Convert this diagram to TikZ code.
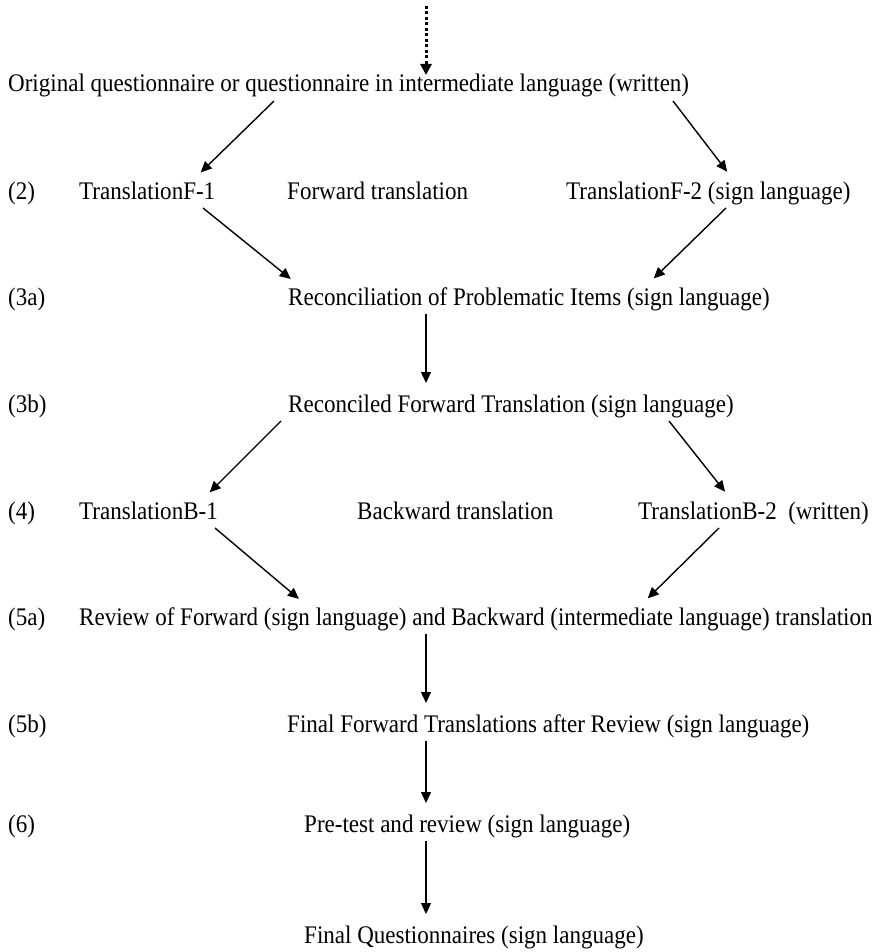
\documentclass[tikz,border=0pt]{standalone}
\usepackage{fontspec}
\setmainfont{Liberation Serif}[FakeStretch=0.91]
\usetikzlibrary{arrows.meta}

\begin{document}
\begin{tikzpicture}[x=1pt,y=-1pt,
  row/.style={anchor=base west, inner sep=0pt, outer ysep=4pt,
    text height=17pt, text depth=5pt, font=\fontsize{25.3}{29}\selectfont},
  arr/.style={line width=1.4pt, -{Triangle[length=11pt,width=10pt]}, shorten >=8pt},
  dotarr/.style={line width=3pt, dash pattern=on 3pt off 2.5pt,
    -{Triangle[length=11pt,width=11pt]}}]
  % Fix the page size
  \useasboundingbox (0,0) rectangle (881,952);

  % Step numbers
  \node[row] (n2)  at (8,199) {(2)};
  \node[row] (n3a) at (8,305) {(3a)};
  \node[row] (n3b) at (8,412) {(3b)};
  \node[row] (n4)  at (8,519) {(4)};
  \node[row] (n5a) at (8,625) {(5a)};
  \node[row] (n5b) at (8,732) {(5b)};
  \node[row] (n6)  at (8,832) {(6)};

  % Stages
  \node[row] (orig)   at (8,92)    {Original questionnaire or questionnaire in intermediate language (written)};
  \node[row] (transf1) at (79,199) {TranslationF-1};
  \node[row] (fwd)    at (287,199) {Forward translation};
  \node[row] (transf2) at (566,199) {TranslationF-2 (sign language)};
  \node[row] (recon)  at (288,305) {Reconciliation of Problematic Items (sign language)};
  \node[row] (recfwd) at (288,412) {Reconciled Forward Translation (sign language)};
  \node[row] (transb1) at (79,519) {TranslationB-1};
  \node[row] (bwd)    at (357,519) {Backward translation};
  \node[row] (transb2) at (638,519) {TranslationB-2\ \ (written)};
  \node[row] (review) at (79,625)  {Review of Forward (sign language) and Backward (intermediate language) translation};
  \node[row] (final)  at (287,732) {Final Forward Translations after Review (sign language)};
  \node[row] (pretest) at (304,832) {Pre-test and review (sign language)};
  \node[row] (finalq) at (304,943) {Final Questionnaires (sign language)};

  % Incoming dotted arrow
  \coordinate (top) at (426,6);
  \draw[dotarr, shorten >=-4pt] (top) -- (top |- orig.north);

  % Forward translation
  \draw[arr] (orig.south -| 274,0) -- (transf1.north -| 195,0);
  \draw[arr] (orig.south -| 673,0) -- (transf2.north -| 732,0);
  \draw[arr] (transf1.south -| 203,0) -- (recon.north -| 297,0);
  \draw[arr] (transf2.south -| 726,0) -- (recon.north -| 648,0);
  \draw[arr] (recon.south -| top) -- (recfwd.north -| top);

  % Backward translation
  \draw[arr] (recfwd.south -| 281,0) -- (transb1.north -| 204,0);
  \draw[arr] (recfwd.south -| 669,0) -- (transb2.north -| 730,0);
  \draw[arr] (transb1.south -| 215,0) -- (review.north -| 305,0);
  \draw[arr] (transb2.south -| 719,0) -- (review.north -| 642,0);

  % Review and testing
  \draw[arr] (review.south -| top) -- (final.north -| top);
  \draw[arr] (final.south -| top) -- (pretest.north -| top);
  \draw[arr] (pretest.south -| top) -- (finalq.north -| top);
\end{tikzpicture}
\end{document}
